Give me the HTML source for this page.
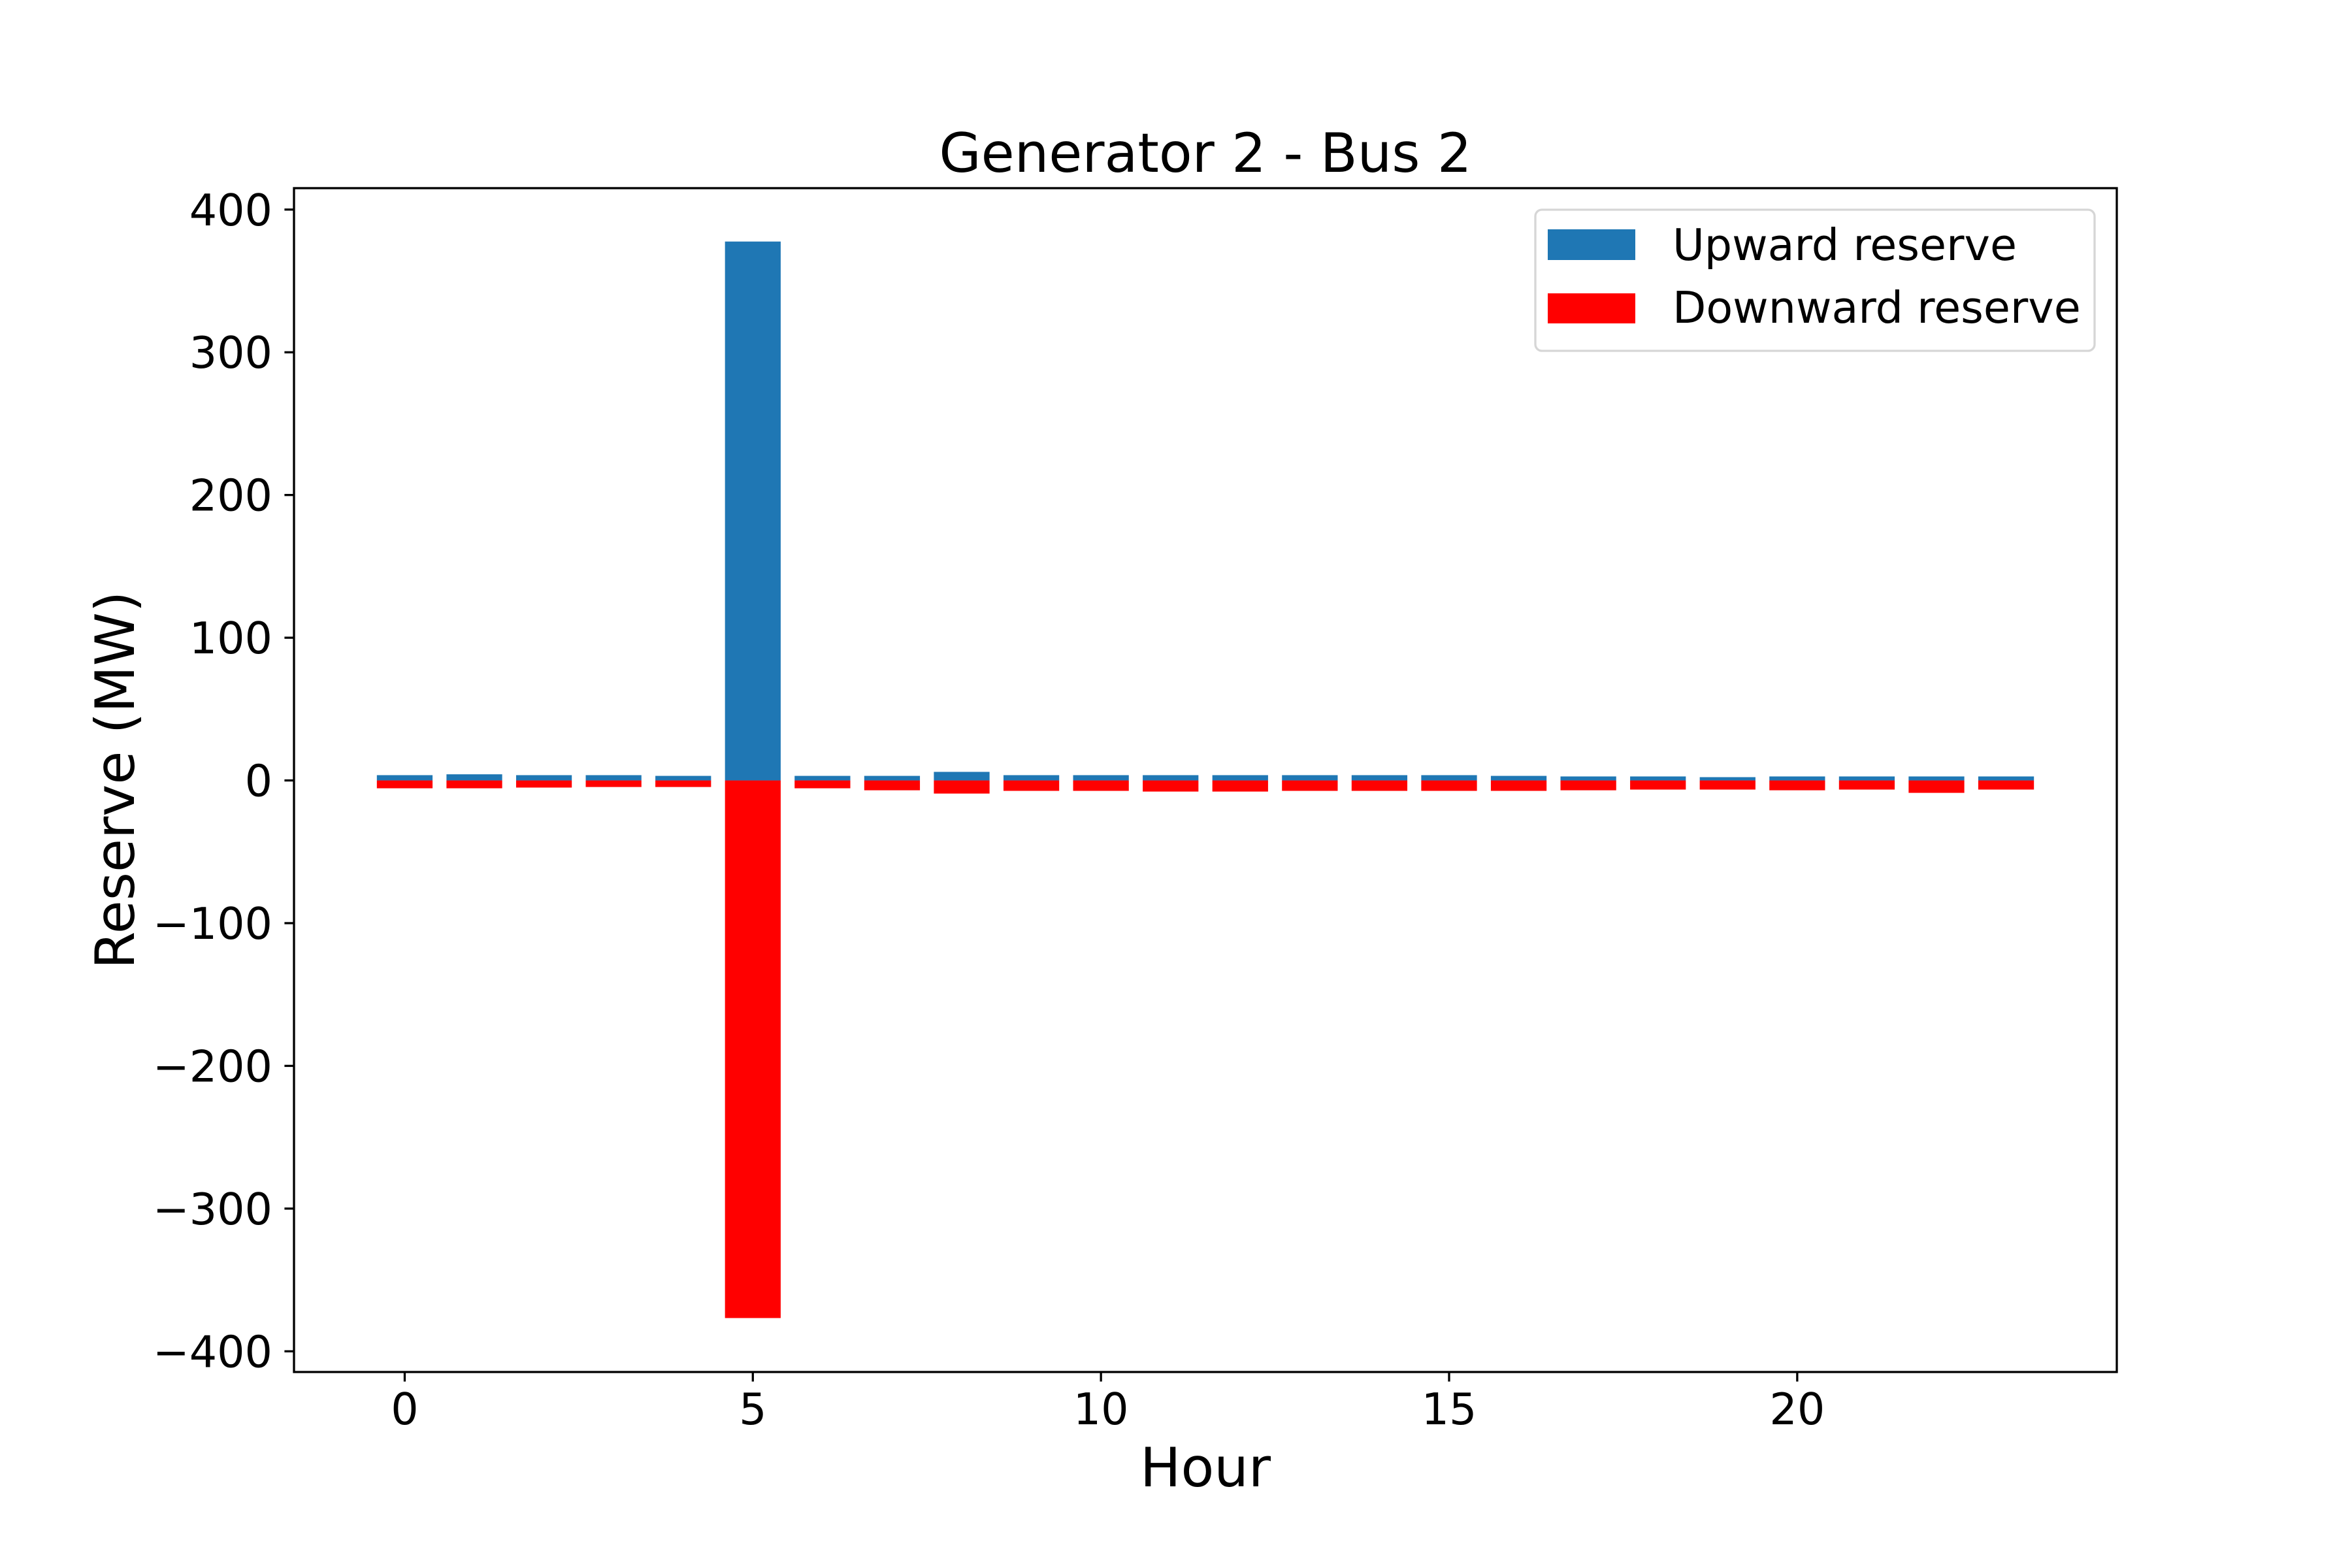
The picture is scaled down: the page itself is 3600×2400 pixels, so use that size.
<!DOCTYPE html>
<html><head><meta charset="utf-8"><style>
html,body{margin:0;padding:0;background:#fff;}
svg{display:block;font-family:"DejaVu Sans","Liberation Sans",sans-serif;}
</style></head><body>
<svg id="chart" width="3600" height="2400" viewBox="0 0 3600 2400" xmlns="http://www.w3.org/2000/svg">
<rect width="3600" height="2400" fill="#fff"/>
<g id="bars"></g>
<g id="axes"></g>
<text x="1845" y="263" font-size="83" text-anchor="middle">Generator 2 - Bus 2</text>
<text x="1845" y="2275" font-size="83" text-anchor="middle">Hour</text>
<text transform="translate(205,1194) rotate(-90)" font-size="83" text-anchor="middle">Reserve (MW)</text>
<g>
<rect x="2350" y="321" width="856" height="216" rx="10" fill="#fff" fill-opacity="0.8" stroke="#d6d6d6" stroke-width="3.3"/>
<rect x="2369" y="351" width="134" height="47" fill="#1f77b4"/>
<text x="2560" y="398" font-size="66.7">Upward reserve</text>
<rect x="2369" y="449" width="134" height="46" fill="#ff0000"/>
<text x="2560" y="494" font-size="66.7">Downward reserve</text>
</g>
</svg>
<script>
const hours = [0,1,2,3,4,5,6,7,8,9,10,11,12,13,14,15,16,17,18,19,20,21,22,23];
const upward = [3.7,4.3,3.7,3.7,3.2,377.6,3.2,3.2,6.0,3.7,3.7,3.7,3.7,3.7,3.7,3.7,3.2,2.8,2.8,2.3,2.8,2.8,2.8,2.8];
const downward = [-5.5,-5.5,-5.0,-4.6,-4.6,-376.7,-5.5,-6.9,-9.2,-7.3,-7.3,-7.8,-7.8,-7.3,-7.3,-7.3,-7.3,-6.9,-6.4,-6.4,-6.9,-6.4,-8.7,-6.4];
const xTicks = [0,5,10,15,20];
const yTicks = [-400,-300,-200,-100,0,100,200,300,400];
const yTickLabels = ["\u2212400","\u2212300","\u2212200","\u2212100","0","100","200","300","400"];

const L=450,R=3240,T=288,B=2100;
const xMin=-1.59,xMax=24.59,yMin=-414.5,yMax=415;
const xs=v=>L+(v-xMin)/(xMax-xMin)*(R-L);
const ys=v=>B-(v-yMin)/(yMax-yMin)*(B-T);
const NS="http://www.w3.org/2000/svg";
const bars=document.getElementById('bars');
const axes=document.getElementById('axes');
function mk(tag,attrs,parent){const e=document.createElementNS(NS,tag);for(const k in attrs)e.setAttribute(k,attrs[k]);parent.appendChild(e);return e;}
const bw=0.8;
hours.forEach((h,i)=>{
  const x0=xs(h-bw/2),x1=xs(h+bw/2);
  const u=mk('rect',{x:x0,y:ys(upward[i]),width:x1-x0,height:ys(0)-ys(upward[i]),fill:'#1f77b4'},bars);
  
  
  const d=mk('rect',{x:x0,y:ys(0),width:x1-x0,height:ys(downward[i])-ys(0),fill:'#ff0000'},bars);
  
  
});
const frame=mk('rect',{x:L,y:T,width:R-L,height:B-T,fill:'none',stroke:'#000','stroke-width':3.3},axes);


xTicks.forEach(t=>{
  const x=xs(t);
  const tk=mk('line',{x1:x,x2:x,y1:B,y2:B+14.6,stroke:'#000','stroke-width':3.3},axes);
  
  
  const tx=mk('text',{x:x,y:2180,'font-size':66.7,'text-anchor':'middle'},axes);
  tx.textContent=String(t);
  
  
});
yTicks.forEach((t,i)=>{
  const y=ys(t);
  const tk=mk('line',{x1:L-14.6,x2:L,y1:y,y2:y,stroke:'#000','stroke-width':3.3},axes);
  
  
  const tx=mk('text',{x:417,y:y+24,'font-size':66.7,'text-anchor':'end'},axes);
  tx.textContent=yTickLabels[i];
  
  
});
</script>
</body></html>
